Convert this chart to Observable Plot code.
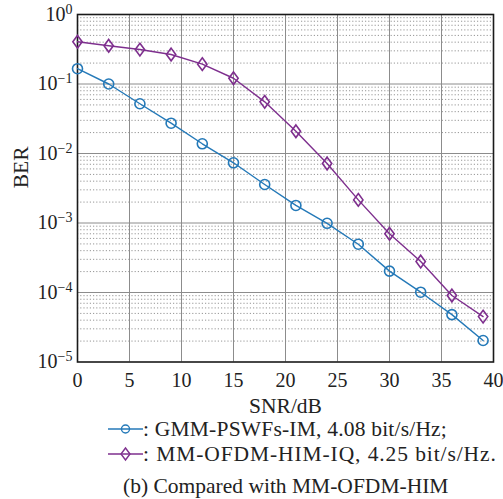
<!DOCTYPE html>
<html>
<head>
<meta charset="utf-8">
<script src="https://cdn.jsdelivr.net/npm/d3@7"></script>
<script src="https://cdn.jsdelivr.net/npm/@observablehq/plot@0.6"></script>
<style>
  body { margin: 0; background: #fff; }
  #wrap { position: relative; width: 503px; height: 499px; font-family: "Liberation Serif", "Times New Roman", serif; color: #222; }
  .leg { position: absolute; left: 108px; font-size: 21.5px; line-height: 24px; white-space: nowrap; display: flex; align-items: center; }
  .cap { position: absolute; left: 123px; white-space: nowrap; font-size: 21.5px; line-height: 24px; top: 474px; }
</style>
</head>
<body>
<div id="wrap"></div>
<script>
const snr = [0, 3, 6, 9, 12, 15, 18, 21, 24, 27, 30, 33, 36, 39];
const gmmBER = [0.166, 0.1, 0.052, 0.0273, 0.0138, 0.00735, 0.00358, 0.00179, 0.00099, 0.000495, 0.000203, 0.000101, 4.8e-5, 2.04e-5];
const mmBER = [0.405, 0.355, 0.313, 0.266, 0.193, 0.121, 0.0554, 0.0209, 0.00718, 0.00215, 0.0007, 0.000279, 9.06e-5, 4.5e-5];
const xTicks = [0, 5, 10, 15, 20, 25, 30, 35, 40];
const yTicks = [1e-5, 1e-4, 1e-3, 1e-2, 1e-1, 1];
const seriesNames = ["GMM-PSWFs-IM, 4.08 bit/s/Hz;", "MM-OFDM-HIM-IQ, 4.25 bit/s/Hz."];
const colors = ["#2479b8", "#7e2f8e"];
const xLabel = "SNR/dB";
const yLabel = "BER";
const caption = "(b) Compared with MM-OFDM-HIM";

const gmm = snr.map((x, i) => ({x, y: gmmBER[i]}));
const mm = snr.map((x, i) => ({x, y: mmBER[i]}));
const minorY = [];
for (let e = -5; e < 0; e++) for (let m = 2; m <= 9; m++) minorY.push(m * Math.pow(10, e));
const majorY = yTicks.slice(1, -1);
const majorX = xTicks.slice(1, -1);

// MATLAB-style diamond: taller than wide
const tallDiamond = {
  draw(ctx, size) {
    const r = Math.sqrt(size / Math.PI);
    const w = r * 0.85, h = r * 1.15;
    ctx.moveTo(0, -h); ctx.lineTo(w, 0); ctx.lineTo(0, h); ctx.lineTo(-w, 0); ctx.closePath();
  }
};

const chart = Plot.plot({
  width: 503,
  height: 420,
  marginTop: 14,
  marginBottom: 58.5,
  marginLeft: 77,
  marginRight: 10,
  style: { fontFamily: "Liberation Serif, Times New Roman, serif", fontSize: "20px", color: "#222", background: "#fff" },
  x: { domain: [0, 40], ticks: xTicks, tickSize: 0, tickPadding: 11, label: null },
  y: { type: "log", domain: [1e-5, 1], ticks: yTicks, tickSize: 0, tickPadding: 5, label: null, tickFormat: d => String(Math.round(Math.log10(d))) },
  marks: [
    Plot.ruleY(minorY, { stroke: "#8a8a8a", strokeWidth: 0.9, strokeDasharray: "1.2,2" }),
    Plot.ruleY(majorY, { stroke: "#8c8c8c", strokeWidth: 1 }),
    Plot.ruleX(majorX, { stroke: "#8c8c8c", strokeWidth: 1 }),
    Plot.frame({ stroke: "#1a1a1a", strokeWidth: 1.6 }),
    Plot.line(gmm, { x: "x", y: "y", stroke: colors[0], strokeWidth: 1.4 }),
    Plot.dot(gmm, { x: "x", y: "y", stroke: colors[0], fill: "none", r: 5, strokeWidth: 1.6, symbol: "circle" }),
    Plot.line(mm, { x: "x", y: "y", stroke: colors[1], strokeWidth: 1.4 }),
    Plot.dot(mm, { x: "x", y: "y", stroke: colors[1], fill: "none", r: 5.5, strokeWidth: 1.6, symbol: tallDiamond }),
    Plot.text([xLabel], { frameAnchor: "bottom", dy: 44, text: d => d, fontSize: 21.5, fill: "#222", lineAnchor: "middle" }),
    Plot.text([yLabel], { frameAnchor: "left", dx: -56, text: d => d, fontSize: 21.5, fill: "#222", rotate: -90, lineAnchor: "middle" })
  ]
});

// superscript exponents on the y tick labels
d3.select(chart).selectAll('[aria-label="y-axis tick label"] text').each(function() {
  const t = d3.select(this);
  const e = t.text();
  t.text("10");
  t.append("tspan").attr("dy", "-0.5em").attr("font-size", "14px").text(e === "0" ? "0" : e.replace("-", "\u2212"));
});

const wrap = document.getElementById("wrap");
wrap.appendChild(chart);

function legendItem(i, top, symbol, spacing) {
  const div = document.createElement("div");
  div.className = "leg";
  div.style.top = top + "px";
  const c = colors[i];
  const mk = symbol === "circle"
    ? `<circle cx="17.5" cy="12" r="4" fill="none" stroke="${c}" stroke-width="1.4"/>`
    : `<path d="M17.5 6 L22 12 L17.5 18 L13 12 Z" fill="none" stroke="${c}" stroke-width="1.4"/>`;
  div.innerHTML = `<svg width="35" height="24" style="display:block"><line x1="0" x2="35" y1="12" y2="12" stroke="${c}" stroke-width="1.4"/>${mk}</svg><span style="letter-spacing:${spacing}px">: ${seriesNames[i]}</span>`;
  wrap.appendChild(div);
}
legendItem(0, 417, "circle", 0.2);
legendItem(1, 442, "diamond", 0.9);

const cap = document.createElement("div");
cap.className = "cap";
cap.textContent = caption;
wrap.appendChild(cap);
</script>
</body>
</html>
